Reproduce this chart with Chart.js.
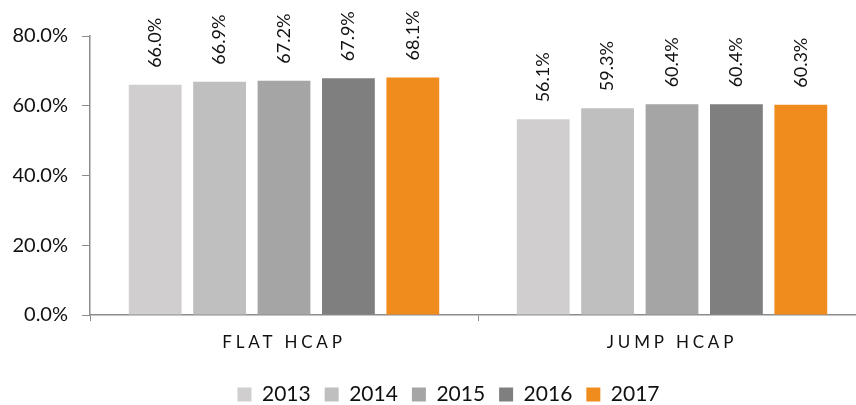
<!DOCTYPE html>
<html>
<head>
<meta charset="utf-8">
<script src="https://cdn.jsdelivr.net/npm/chart.js@4/dist/chart.umd.min.js"></script>
<style>
  html, body { margin: 0; padding: 0; background: #fff; overflow: hidden; }
  /* the plot runs a little past the right and bottom edge of the window */
  #wrap { width: 866px; height: 417px; position: relative; }
</style>
</head>
<body>
<div id="wrap"><canvas id="chart"></canvas></div>
<script>
// -----------------------
// DATA
// -----------------------
const categories = ['FLAT HCAP', 'JUMP HCAP'];
const years = ['2013', '2014', '2015', '2016', '2017'];
const values2013 = [66.0, 56.1];
const values2014 = [66.9, 59.3];
const values2015 = [67.2, 60.4];
const values2016 = [67.9, 60.4];
const values2017 = [68.1, 60.3];
const yTicks = [0, 20, 40, 60, 80];

const seriesValues = [values2013, values2014, values2015, values2016, values2017];
const barColors = ['#D0CECE', '#BFBFBF', '#A5A5A5', '#7F7F7F', '#F08B1D'];

const FONT = 'Lato, "Open Sans", sans-serif';
const AXIS = '#8C8C8C';

// rotated value labels above each bar
const valueLabels = {
    id: 'valueLabels',
    afterDatasetsDraw(chart) {
        const ctx = chart.ctx;
        ctx.save();
        ctx.font = '18px ' + FONT;
        ctx.fillStyle = '#111';
        ctx.textAlign = 'left';
        ctx.textBaseline = 'middle';
        chart.data.datasets.forEach((ds, i) => {
            chart.getDatasetMeta(i).data.forEach((bar, j) => {
                ctx.save();
                ctx.translate(bar.x, bar.y - 17);
                ctx.rotate(-Math.PI / 2);
                ctx.fillText(ds.data[j].toFixed(1) + '%', 0, 0);
                ctx.restore();
            });
        });
        ctx.restore();
    }
};

// spaced-out category labels, and y labels allowed past the axis box
const axisTweaks = {
    id: 'axisTweaks',
    beforeDraw(chart) {
        const sx = chart.scales.x;
        if (!sx._spaced) {
            const orig = sx.drawLabels.bind(sx);
            sx.drawLabels = function (area) {
                chart.ctx.save();
                chart.ctx.letterSpacing = '3.8px';
                orig(area);
                chart.ctx.restore();
            };
            sx._spaced = true;
        }
        chart.scales.y._computeLabelArea = () => undefined;
    }
};

new Chart(document.getElementById('chart'), {
    type: 'bar',
    data: {
        labels: categories,
        datasets: years.map((y, i) => ({
            label: y,
            data: seriesValues[i],
            backgroundColor: barColors[i],
            categoryPercentage: 0.83,
            barPercentage: 0.82
        }))
    },
    options: {
        responsive: true,
        maintainAspectRatio: false,
        animation: false,
        layout: { padding: { left: 31, right: 0, top: 36, bottom: 2 } },
        scales: {
            x: {
                afterFit(scale) { scale.height = 55; },
                grid: { display: true, drawOnChartArea: false, offset: true, color: AXIS, tickLength: 6 },
                border: { display: true, color: AXIS, width: 1.5 },
                ticks: { color: '#111', font: { family: FONT, size: 17 }, padding: 11.8 }
            },
            y: {
                min: 0,
                max: 80,
                afterFit(scale) { scale.width = 59; },
                afterBuildTicks(scale) { scale.ticks = yTicks.map(v => ({ value: v })); },
                grid: { display: true, drawOnChartArea: false, color: AXIS, tickLength: 8 },
                border: { display: true, color: AXIS, width: 1.5 },
                ticks: {
                    color: '#111',
                    font: { family: FONT, size: 20 },
                    padding: 14,
                    callback: v => v.toFixed(1) + '%'
                }
            }
        },
        plugins: {
            legend: {
                position: 'bottom',
                labels: {
                    boxWidth: 14,
                    boxHeight: 14,
                    padding: 14,
                    color: '#111',
                    font: { family: FONT, size: 21 }
                }
            },
            tooltip: { enabled: false }
        }
    },
    plugins: [valueLabels, axisTweaks]
});
</script>
</body>
</html>
